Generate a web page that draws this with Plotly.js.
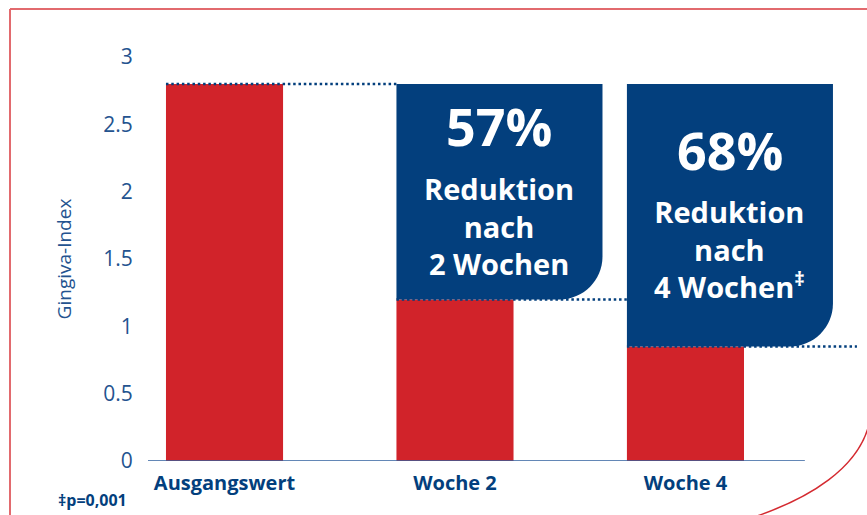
<!DOCTYPE html>
<html>
<head>
<meta charset="utf-8">
<script src="https://cdn.plot.ly/plotly-3.0.1.min.js"></script>
<style>
  html, body { margin: 0; padding: 0; background: #ffffff; }
  #chart { width: 867px; height: 515px; }
</style>
</head>
<body>
<div id="chart"></div>
<script>
// ---- data ----
const categories = ['Ausgangswert', 'Woche 2', 'Woche 4'];
const gingivaIndex = [2.8, 1.2, 0.85];
const reductionPct = ['57%', '68%'];
const reductionText = ['Reduktion<br>nach<br>2 Wochen', 'Reduktion<br>nach<br>4 Wochen<sup>‡</sup>'];
const yTickVals = [0, 0.5, 1, 1.5, 2, 2.5, 3];
const yTickText = ['0', '0.5', '1', '1.5', '2', '2.5', '3'];
const yAxisTitle = 'Gingiva-Index';
const footnote = '‡p=0,001';

// ---- styling ----
const RED = '#d1232a';
const NAVY = '#033f7d';
const TEXTBLUE = '#24538f';
const W = 867, H = 515;
const M = {l: 148, r: 5, t: 57, b: 54};
const xIdx = categories.map((_, i) => i);
const barW = 0.508;
const boxW = 0.894;
const X0 = -0.332, X1 = 2.766;

// pixel -> paper helpers (frame decoration only)
const plotW = W - M.l - M.r, plotH = H - M.t - M.b;
const px = x => (x - M.l) / plotW;
const py = y => (H - M.b - y) / plotH;

const shapes = [];
const annotations = [];
const baseVal = gingivaIndex[0];
const pxPerX = plotW / (X1 - X0);
const pxPerY = plotH / 3;
const rPx = 43;
const rx = rPx / pxPerX, ry = rPx / pxPerY;
const k = 0.5523;

// blue reduction boxes
for (let i = 1; i < categories.length; i++) {
  const left = xIdx[i] - barW / 2;
  const right = left + boxW;
  const top = baseVal, bot = gingivaIndex[i];
  const path = `M ${left},${top} L ${right},${top} L ${right},${bot + ry} ` +
    `C ${right},${bot + ry * (1 - k)} ${right - rx * (1 - k)},${bot} ${right - rx},${bot} ` +
    `L ${left},${bot} Z`;
  shapes.push({type: 'path', xref: 'x', yref: 'y', path: path,
    fillcolor: NAVY, line: {width: 0}, layer: 'above'});
  const cx = left + boxW / 2;
  const cy = (top + bot) / 2;
  annotations.push({x: cx, y: cy, xref: 'x', yref: 'y', showarrow: false,
    text: reductionPct[i - 1], yshift: 66, xanchor: 'center', yanchor: 'middle',
    font: {family: 'Open Sans', size: 52, color: '#ffffff', weight: 700}});
  annotations.push({x: cx, y: cy, xref: 'x', yref: 'y', showarrow: false,
    text: reductionText[i - 1], yshift: -34, xanchor: 'center', yanchor: 'middle',
    font: {family: 'Open Sans', size: 29, color: '#ffffff', weight: 700}});
}

// dotted level lines
for (let i = 0; i < categories.length; i++) {
  const start = xIdx[i] - barW / 2;
  const end = i < categories.length - 1 ? xIdx[i + 1] - barW / 2 : 2.744;
  shapes.push({type: 'line', xref: 'x', yref: 'y', x0: start, x1: end,
    y0: gingivaIndex[i], y1: gingivaIndex[i], layer: 'above',
    line: {color: NAVY, width: 2.5, dash: '2.5px,2.8px'}});
}

// baseline
shapes.push({type: 'line', xref: 'x', yref: 'y', x0: X0, x1: 2.518, y0: 0, y1: 0,
  layer: 'above', line: {color: '#2f5f9e', width: 1.5}});

// red frame
shapes.push({type: 'line', xref: 'paper', yref: 'paper', x0: px(10), x1: px(870),
  y0: py(9), y1: py(9), line: {color: '#e26a6e', width: 2}});
shapes.push({type: 'line', xref: 'paper', yref: 'paper', x0: px(10), x1: px(10),
  y0: py(9), y1: py(520), line: {color: '#e26a6e', width: 2}});
shapes.push({type: 'path', xref: 'paper', yref: 'paper',
  path: `M ${px(757)},${py(516)} C ${px(812)},${py(497)} ${px(856)},${py(468)} ${px(868)},${py(428)}`,
  line: {color: '#d42a30', width: 1.5}});

// footnote
annotations.push({x: px(92), y: py(500), xref: 'paper', yref: 'paper', showarrow: false,
  text: footnote, xanchor: 'center', yanchor: 'middle',
  font: {family: 'Open Sans', size: 16, color: NAVY, weight: 700}});

const trace = {
  type: 'bar', x: xIdx, y: gingivaIndex, width: barW,
  marker: {color: RED, line: {width: 0}},
  hoverinfo: 'skip'
};

const layout = {
  width: W, height: H,
  margin: M,
  paper_bgcolor: '#ffffff', plot_bgcolor: '#ffffff',
  showlegend: false,
  xaxis: {
    range: [X0, X1], tickmode: 'array', tickvals: xIdx, ticktext: categories,
    showgrid: false, zeroline: false, showline: false,
    ticks: 'outside', ticklen: 4, tickcolor: 'rgba(0,0,0,0)',
    tickfont: {family: 'Open Sans', size: 20, color: NAVY, weight: 700},
    fixedrange: true
  },
  yaxis: {
    range: [0, 3], tickmode: 'array', tickvals: yTickVals, ticktext: yTickText,
    showgrid: false, zeroline: false, showline: false,
    ticks: 'outside', ticklen: 10, tickcolor: 'rgba(0,0,0,0)',
    tickfont: {family: 'Open Sans', size: 21, color: TEXTBLUE, weight: 400},
    title: {text: yAxisTitle, standoff: 26,
      font: {family: 'Open Sans', size: 19, color: TEXTBLUE, weight: 400}},
    fixedrange: true
  },
  shapes: shapes,
  annotations: annotations
};

Plotly.newPlot('chart', [trace], layout, {displayModeBar: false, staticPlot: true});
</script>
</body>
</html>
